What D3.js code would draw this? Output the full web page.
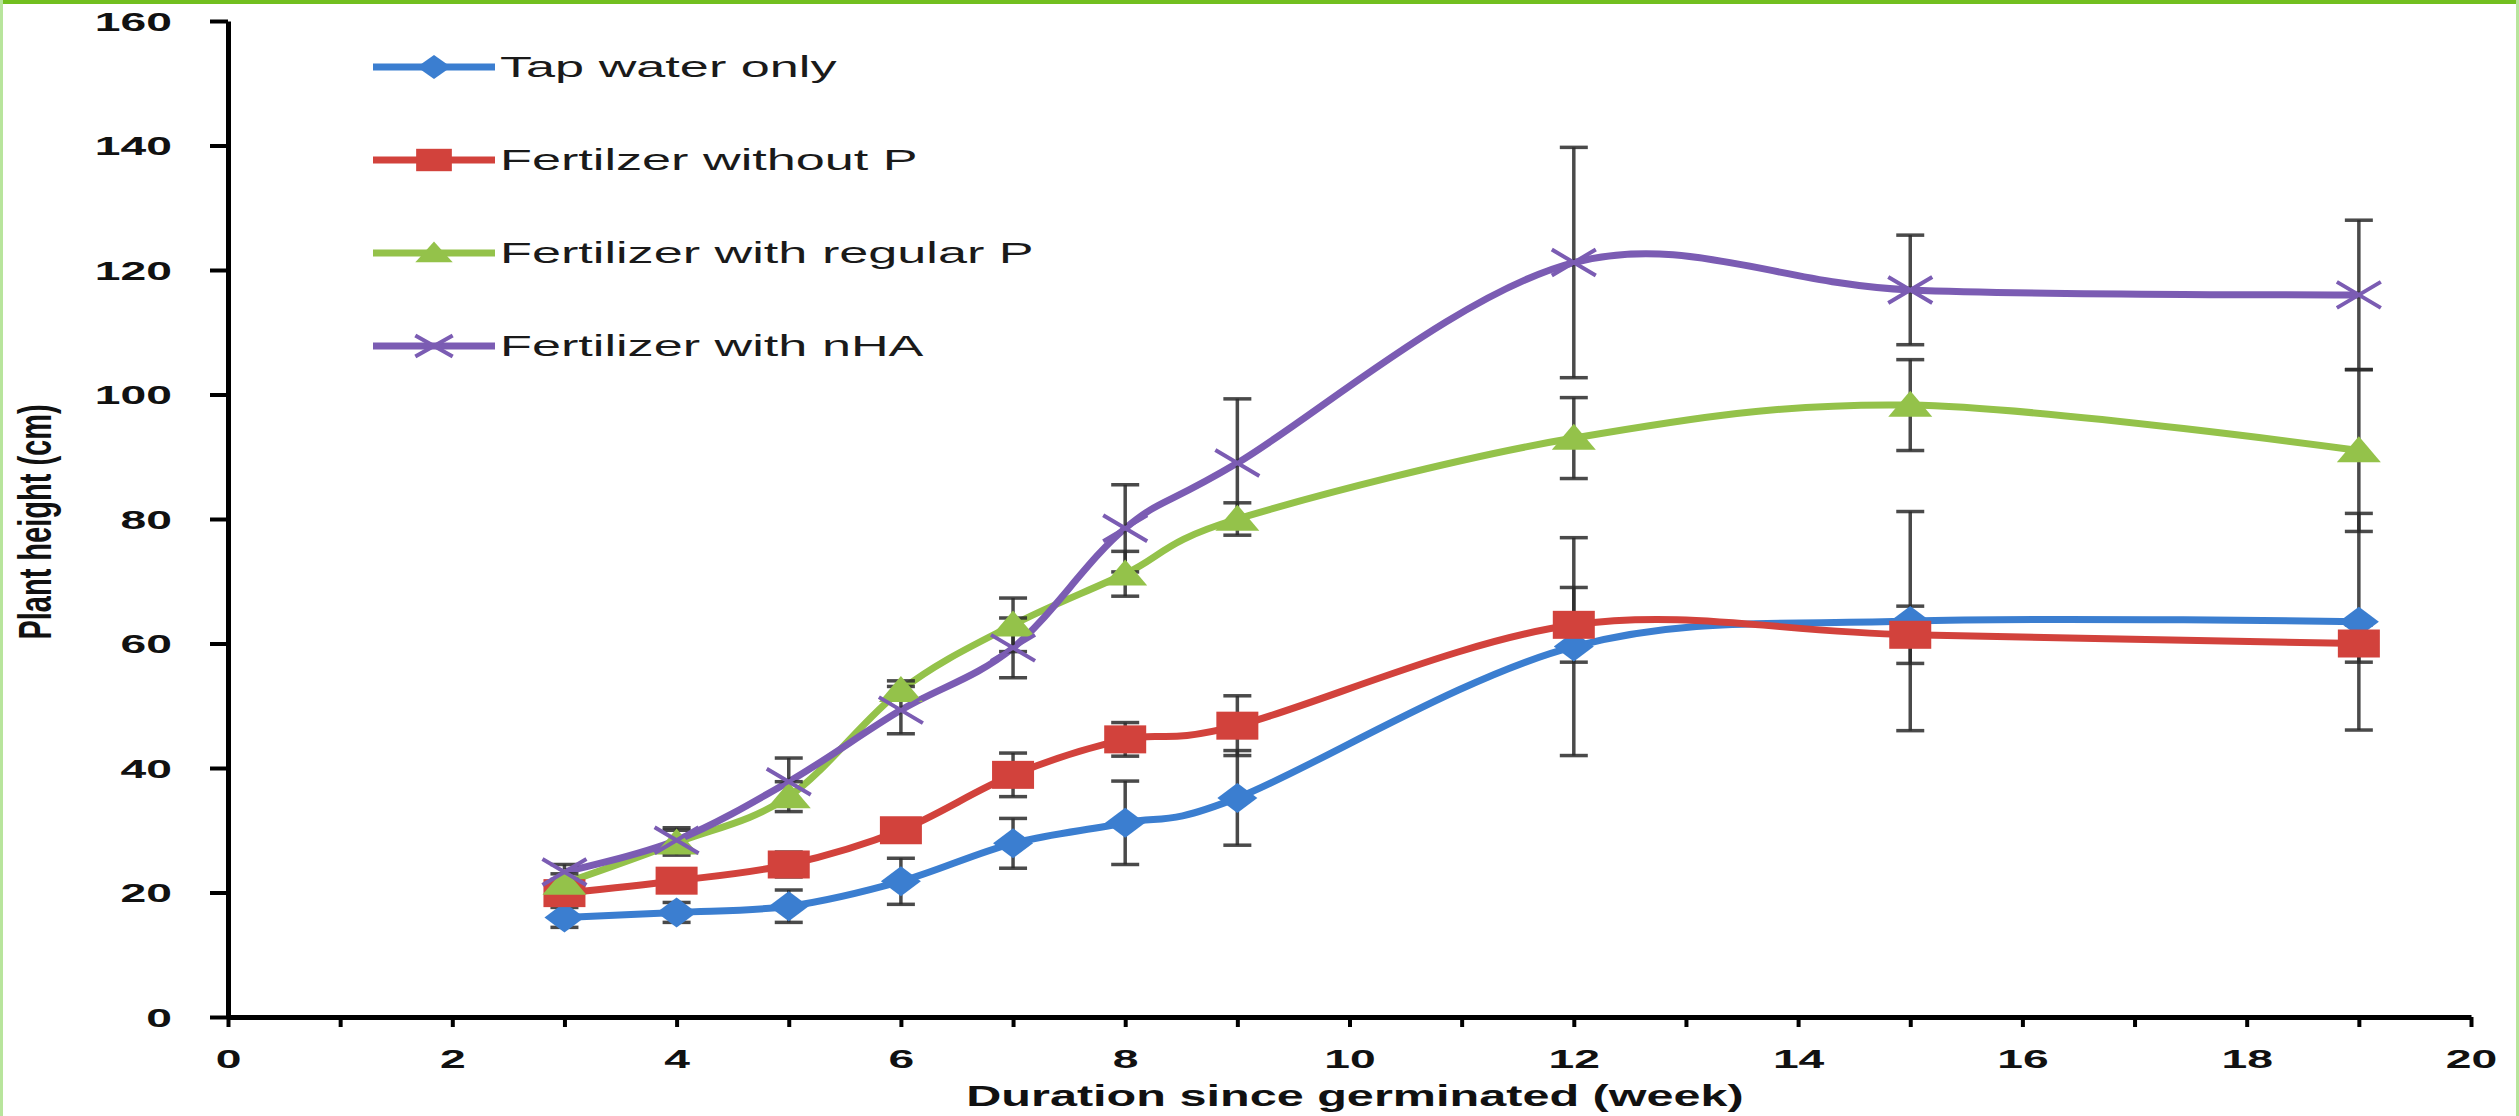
<!DOCTYPE html>
<html>
<head>
<meta charset="utf-8">
<script src="https://cdn.jsdelivr.net/npm/d3@7"></script>
<style>
  html, body { margin: 0; padding: 0; background: #ffffff; }
  svg { display: block; }
</style>
</head>
<body>
<svg id="chart" width="2519" height="1116"></svg>
<script>
// ---------------- data ----------------
const weeks = [3, 4, 5, 6, 7, 8, 9, 12, 15, 19];
const seriesNames = ["Tap water only", "Fertilzer without P", "Fertilizer with regular P", "Fertilizer with nHA"];
const tapWater   = [16.0, 16.8, 17.8, 21.8, 27.9, 31.2, 35.2, 59.5, 63.6, 63.5];
const tapErr     = [1.6, 1.6, 2.6, 3.7, 4.0, 6.7, 7.6, 17.5, 17.6, 17.4];
const withoutP   = [19.9, 21.9, 24.5, 30.0, 38.9, 44.6, 46.8, 63.0, 61.4, 60.0];
const withoutPErr= [1.2, 1.2, 2.0, 1.5, 3.5, 2.7, 4.8, 6.0, 4.6, 3.0];
const regularP   = [21.5, 28.0, 35.4, 52.5, 63.0, 71.2, 80.0, 93.0, 98.3, 91.0];
const regularPErr= [1.5, 2.0, 2.4, 1.5, 4.3, 3.6, 2.6, 6.5, 7.3, 13.0];
const nHA        = [23.3, 28.4, 37.8, 49.3, 59.3, 78.5, 89.0, 121.2, 116.8, 116.0];
const nHAErr     = [1.2, 2.0, 3.8, 3.8, 4.8, 7.0, 10.3, 18.5, 8.8, 12.0];
const yTicks = [0, 20, 40, 60, 80, 100, 120, 140, 160];
const xTicksMajor = [0, 2, 4, 6, 8, 10, 12, 14, 16, 18, 20];
const xTitle = "Duration since germinated (week)";
const yTitle = "Plant height (cm)";

// ---------------- style ----------------
const colors = ["#3b7ed0", "#d2423c", "#94c24a", "#7b5cb3"];
const shapes = ["diamond", "square", "triangle", "cross"];
const SX = 1.85; // horizontal stretch of the original image

const svg = d3.select("#chart");
svg.append("rect").attr("width", 2519).attr("height", 1116).attr("fill", "#fff");

const x = d3.scaleLinear().domain([0, 20]).range([228, 2471]);
const y = d3.scaleLinear().domain([0, 160]).range([1017, 21]);

const series = [
  { name: seriesNames[0], vals: tapWater, err: tapErr },
  { name: seriesNames[1], vals: withoutP, err: withoutPErr },
  { name: seriesNames[2], vals: regularP, err: regularPErr },
  { name: seriesNames[3], vals: nHA, err: nHAErr }
].map((s, i) => ({ ...s, color: colors[i], shape: shapes[i],
  pts: weeks.map((w, j) => ({ w, v: s.vals[j], e: s.err[j] })) }));

// ---------------- axes ----------------
const yAxis = d3.axisLeft(y).tickValues(yTicks).tickSize(18).tickSizeOuter(0).tickFormat(d3.format("d"));
const gy = svg.append("g").attr("transform", `translate(${x(0)},0)`).call(yAxis);
gy.select(".domain").attr("stroke", "#000").attr("stroke-width", 5);
gy.selectAll(".tick line").attr("stroke", "#000").attr("stroke-width", 4);
gy.selectAll(".tick text")
  .attr("x", 0).attr("dy", "0.36em").attr("text-anchor", "end")
  .attr("transform", `translate(-56,0) scale(${SX},1)`)
  .attr("font-family", "'Liberation Sans', Arial, sans-serif")
  .attr("font-weight", "bold").attr("font-size", 25).attr("fill", "#111");

const xAxis = d3.axisBottom(x).ticks(20).tickSize(10).tickSizeOuter(0)
  .tickFormat(d => xTicksMajor.includes(d) ? d3.format("d")(d) : "");
const gx = svg.append("g").attr("transform", `translate(0,${y(0)})`).call(xAxis);
gx.select(".domain").attr("stroke", "#000").attr("stroke-width", 5);
gx.selectAll(".tick line").attr("stroke", "#000").attr("stroke-width", 4);
gx.selectAll(".tick text")
  .attr("y", 0).attr("dy", "0.36em").attr("text-anchor", "middle")
  .attr("transform", `translate(0,42) scale(${SX},1)`)
  .attr("font-family", "'Liberation Sans', Arial, sans-serif")
  .attr("font-weight", "bold").attr("font-size", 25).attr("fill", "#111");

// axis titles
svg.append("text")
  .attr("transform", `translate(1355,1106) scale(1.62,1)`)
  .attr("text-anchor", "middle")
  .attr("font-family", "'Liberation Sans', Arial, sans-serif")
  .attr("font-weight", "bold").attr("font-size", 30).attr("fill", "#111")
  .text(xTitle);
svg.append("text")
  .attr("transform", `translate(51,522) scale(1.6,1) rotate(-90)`)
  .attr("text-anchor", "middle")
  .attr("font-family", "'Liberation Sans', Arial, sans-serif")
  .attr("font-weight", "bold").attr("font-size", 29).attr("fill", "#111")
  .text(yTitle);

// ---------------- markers ----------------
function marker(g, shape, color, w, h) {
  if (shape === "diamond") {
    g.append("path").attr("d", `M0,${-h/2}L${w/2},0L0,${h/2}L${-w/2},0Z`).attr("fill", color);
  } else if (shape === "square") {
    g.append("rect").attr("x", -w/2).attr("y", -h/2).attr("width", w).attr("height", h).attr("fill", color);
  } else if (shape === "triangle") {
    g.append("path").attr("d", `M0,${-h*0.55}L${w/2},${h*0.45}L${-w/2},${h*0.45}Z`).attr("fill", color);
  } else {
    g.append("path").attr("d", `M${-w/2},${-h/2}L${w/2},${h/2}M${-w/2},${h/2}L${w/2},${-h/2}`)
      .attr("stroke", color).attr("stroke-width", 4).attr("fill", "none");
  }
}
const mSize = { diamond: [40, 30], square: [42, 28], triangle: [44, 26], cross: [44, 26] };

// ---------------- lines ----------------
const line = d3.line().x(d => x(d.w)).y(d => y(d.v)).curve(d3.curveCatmullRom.alpha(0));
const plot = svg.append("g");
series.forEach(s => {
  plot.append("path").datum(s.pts).attr("d", line)
    .attr("fill", "none").attr("stroke", s.color).attr("stroke-width", 7)
    .attr("stroke-linejoin", "round").attr("stroke-linecap", "round");
});

// error bars
const eb = svg.append("g");
series.forEach(s => {
  const g = eb.selectAll(null).data(s.pts).enter().append("g");
  g.append("line").attr("x1", d => x(d.w)).attr("x2", d => x(d.w))
    .attr("y1", d => y(d.v - d.e)).attr("y2", d => y(d.v + d.e))
    .attr("stroke", "#2a2a2a").attr("stroke-width", 3.5).attr("stroke-opacity", 0.85);
  [-1, 1].forEach(sg => {
    g.append("line").attr("x1", d => x(d.w) - 14).attr("x2", d => x(d.w) + 14)
      .attr("y1", d => y(d.v + sg * d.e)).attr("y2", d => y(d.v + sg * d.e))
      .attr("stroke", "#2a2a2a").attr("stroke-width", 3.5).attr("stroke-opacity", 0.85);
  });
});

// markers
const mk = svg.append("g");
series.forEach(s => {
  const [w, h] = mSize[s.shape];
  s.pts.forEach(d => {
    const g = mk.append("g").attr("transform", `translate(${x(d.w)},${y(d.v)})`);
    marker(g, s.shape, s.color, w, h);
  });
});

// ---------------- legend ----------------
const legendRows = [67, 160, 253, 346];
const lg = svg.append("g");
series.forEach((s, i) => {
  const g = lg.append("g").attr("transform", `translate(0,${legendRows[i]})`);
  g.append("line").attr("x1", 373).attr("x2", 495).attr("y1", 0).attr("y2", 0)
    .attr("stroke", s.color).attr("stroke-width", 7);
  const [w, h] = mSize[s.shape];
  const mg = g.append("g").attr("transform", "translate(434,0)");
  marker(mg, s.shape, s.color, w * 0.85, h * 0.8);
  g.append("text").attr("transform", `translate(500,0) scale(1.8,1)`)
    .attr("dy", "0.36em")
    .attr("font-family", "'Liberation Sans', Arial, sans-serif")
    .attr("font-size", 29).attr("fill", "#1a1a1a")
    .text(s.name);
});

// ---------------- frame ----------------
svg.append("rect").attr("x", 0).attr("y", 0).attr("width", 2519).attr("height", 4).attr("fill", "#72bf1f");
svg.append("rect").attr("x", 0).attr("y", 0).attr("width", 3).attr("height", 1116).attr("fill", "#b8e59c");
svg.append("rect").attr("x", 2516).attr("y", 0).attr("width", 3).attr("height", 1116).attr("fill", "#b8e59c");
</script>
</body>
</html>
